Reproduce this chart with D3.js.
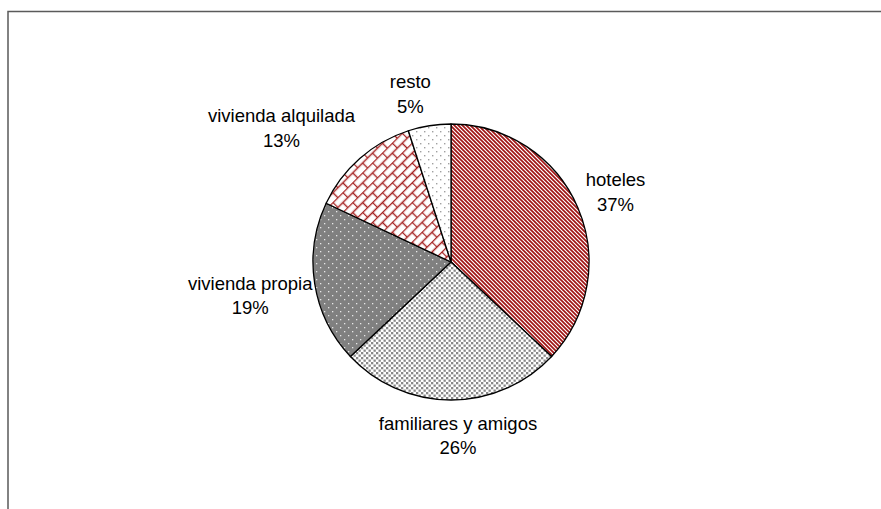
<!DOCTYPE html>
<html>
<head>
<meta charset="utf-8">
<script src="https://cdn.jsdelivr.net/npm/d3@7"></script>
<style>
  body { margin: 0; background: #fff; }
  text { font-family: "Liberation Sans", Arial, sans-serif; font-size: 18.5px; fill: #000; }
</style>
</head>
<body>
<div id="chart"></div>
<script>
const categories = ["hoteles", "familiares y amigos", "vivienda propia", "vivienda alquilada", "resto"];
const values = [37, 26, 19, 13, 5];
const pctLabels = ["37%", "26%", "19%", "13%", "5%"];

const W = 881, H = 509;
const R = 138;
const cx = 451, cy = 262;

const svg = d3.select("#chart").append("svg")
  .attr("width", W)
  .attr("height", H)

// frame, only left + top show
svg.append("rect")
  .attr("x", 8)
  .attr("y", 11.5)
  .attr("width", 1000)
  .attr("height", 700)
  .attr("fill", "none")
  .attr("stroke", "#5a5a5a")
  .attr("stroke-width", 1.5)

const defs = svg.append("defs")

// hoteles: red diagonal stripes
const p0 = defs.append("pattern").attr("id", "pat0")
  .attr("patternUnits", "userSpaceOnUse").attr("width", 4).attr("height", 4)
p0.append("rect").attr("width", 4).attr("height", 4).attr("fill", "#fff")
p0.append("path").attr("d", "M-1,-1L5,5M3,-1L5,1M-1,3L1,5")
  .attr("stroke", "#a01414").attr("stroke-width", 1.7)

// familiares: grey squares on white
const p1 = defs.append("pattern").attr("id", "pat1")
  .attr("patternUnits", "userSpaceOnUse").attr("width", 5).attr("height", 5)
p1.append("rect").attr("width", 5).attr("height", 5).attr("fill", "#fff")
p1.append("rect").attr("x", 0).attr("y", 0).attr("width", 2.3).attr("height", 2.3).attr("fill", "#888")
p1.append("rect").attr("x", 2.5).attr("y", 2.5).attr("width", 2.3).attr("height", 2.3).attr("fill", "#888")

// vivienda propia: grey with white dots
const p2 = defs.append("pattern").attr("id", "pat2")
  .attr("patternUnits", "userSpaceOnUse").attr("width", 8).attr("height", 8)
p2.append("rect").attr("width", 8).attr("height", 8).attr("fill", "#808080")
p2.append("rect").attr("x", 1).attr("y", 1).attr("width", 1.3).attr("height", 1.3).attr("fill", "#e8e8e8")
p2.append("rect").attr("x", 5).attr("y", 5).attr("width", 1.3).attr("height", 1.3).attr("fill", "#e8e8e8")

// vivienda alquilada: red diagonal bricks
const p3 = defs.append("pattern").attr("id", "pat3")
  .attr("patternUnits", "userSpaceOnUse").attr("width", 14).attr("height", 14)
  .attr("patternTransform", "rotate(-45)")
p3.append("rect").attr("width", 14).attr("height", 14).attr("fill", "#fff")
p3.append("path").attr("d", "M0,0.5H14M0,7.5H14M0.5,0V7M7.5,7V14")
  .attr("stroke", "#a52222").attr("stroke-width", 1.4).attr("fill", "none")

// resto: sparse grey dots on white
const p4 = defs.append("pattern").attr("id", "pat4")
  .attr("patternUnits", "userSpaceOnUse").attr("width", 8).attr("height", 8)
p4.append("rect").attr("width", 8).attr("height", 8).attr("fill", "#fff")
p4.append("rect").attr("x", 1).attr("y", 1).attr("width", 1.4).attr("height", 1.4).attr("fill", "#a0a0a0")
p4.append("rect").attr("x", 5).attr("y", 5).attr("width", 1.4).attr("height", 1.4).attr("fill", "#a0a0a0")

const pie = d3.pie().sort(null).value(d => d)
const arcs = pie(values)
const arc = d3.arc().innerRadius(0).outerRadius(R)

const g = svg.append("g").attr("transform", `translate(${cx},${cy})`)

g.selectAll("path.slice")
  .data(arcs)
  .join("path")
  .attr("class", "slice")
  .attr("d", arc)
  .attr("fill", (d, i) => `url(#pat${i})`)
  .attr("stroke", "#000")
  .attr("stroke-width", 1.3)
  .attr("stroke-linejoin", "round")

// labels, placed outside the pie like excel does (box touching a ring)
const LR = 145
const nudge = [[-2, 2.5], [7, 6], [7, 1], [-30, 24.5], [-14, 1]]
const LINE = 24.5

arcs.forEach((d, i) => {
  const a = (d.startAngle + d.endAngle) / 2
  const ux = Math.sin(a), uy = -Math.cos(a)
  const lg = g.append("g")
  lg.append("text").attr("text-anchor", "middle").attr("y", -LINE / 2 + 6).text(categories[i])
  lg.append("text").attr("text-anchor", "middle").attr("y", LINE / 2 + 6).text(pctLabels[i])
  const bb = lg.node().getBBox()
  const sup = bb.width / 2 * Math.abs(ux) + bb.height / 2 * Math.abs(uy)
  const x = (LR + sup) * ux + nudge[i][0]
  const y = (LR + sup) * uy + nudge[i][1]
  lg.attr("transform", `translate(${x},${y})`)
})
</script>
</body>
</html>
